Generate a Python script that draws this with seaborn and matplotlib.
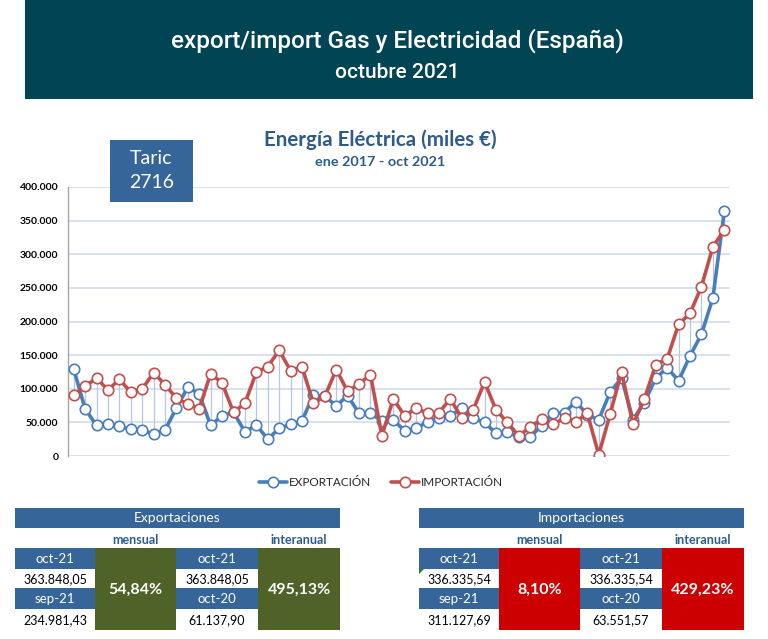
import numpy as np
import pandas as pd
import matplotlib
matplotlib.use("Agg")
import matplotlib.pyplot as plt
import seaborn as sns
from matplotlib.patches import Rectangle, Polygon
from matplotlib.lines import Line2D
from matplotlib.ticker import FuncFormatter

# --- data (miles de euros), ene 2017 - oct 2021 ---
exportacion = [129500, 70000, 45500, 48000, 44000, 39500, 38000, 33000, 38500, 71500,
               102500, 92000, 45500, 60000, 65000, 36000, 46000, 25000, 41000, 47000,
               52000, 91000, 88500, 75000, 89500, 63500, 63500, 52000, 53500, 37500,
               41000, 51000, 57000, 59500, 71000, 56000, 50000, 33500, 35000, 28500,
               28500, 45000, 63500, 64500, 81000, 61138, 54000, 95000, 116000, 54000,
               79500, 116000, 131000, 112000, 149000, 181000, 234981, 363848]
importacion = [90000, 103500, 116000, 98000, 114000, 95000, 99500, 124000, 106000, 86000,
               77000, 70500, 122500, 108500, 65000, 78500, 124500, 133000, 157000, 127000,
               132500, 78500, 88500, 128500, 96000, 107000, 121000, 30000, 85000, 59500,
               71000, 63500, 64500, 85000, 56000, 68500, 110000, 68500, 50000, 29500,
               43500, 54500, 47500, 56000, 51000, 63552, 2000, 62500, 125000, 47000,
               85000, 136000, 144500, 196000, 212000, 252000, 311128, 336336]
meses = pd.date_range("2017-01-01", "2021-10-01", freq="MS")

y_ticks = [0, 50000, 100000, 150000, 200000, 250000, 300000, 350000, 400000]

exp_fechas = ["oct-21", "sep-21", "oct-21", "oct-20"]
exp_valores = ["363.848,05", "234.981,43", "363.848,05", "61.137,90"]
exp_pct = ["54,84%", "495,13%"]
imp_fechas = ["oct-21", "sep-21", "oct-21", "oct-20"]
imp_valores = ["336.335,54", "311.127,69", "336.335,54", "63.551,57"]
imp_pct = ["8,10%", "429,23%"]

BLUE = "#4A7EBB"
RED = "#C0504D"
CELL = "#366599"
TITLE = "#2E5C8A"

sns.set_theme(style="white")
plt.rcParams["font.family"] = ["Lato", "DejaVu Sans"]

W, H = 768, 639
fig = plt.figure(figsize=(W / 100, H / 100), dpi=100)


def fx(x):
    return x / W


def fy(y):
    return 1 - y / H


def box(x0, y0, x1, y1, color, z=0):
    fig.add_artist(Rectangle((fx(x0), fy(y1)), fx(x1) - fx(x0), fy(y0) - fy(y1),
                             transform=fig.transFigure, facecolor=color,
                             edgecolor="none", zorder=z))


def txt(x, y, s, z=6, **kw):
    fig.text(fx(x), fy(y), s, ha="center", va="center", zorder=z, **kw)


# header banner
box(25, 0, 753, 99, "#014453")
txt(397, 41, "export/import Gas y Electricidad (España)", color="white",
    fontsize=17.5, fontweight="medium", family=["Roboto", "DejaVu Sans"])
txt(397, 72, "octubre 2021", color="white", fontsize=15, fontweight="medium",
    family=["Roboto", "DejaVu Sans"])

# chart
ax = fig.add_axes([fx(68), fy(456), fx(730) - fx(68), fy(187) - fy(456)])
ax.patch.set_alpha(0)
idx = np.arange(len(meses))
df = pd.DataFrame({"idx": idx, "exp": exportacion, "imp": importacion})

ax.vlines(idx, np.minimum(exportacion, importacion), np.maximum(exportacion, importacion),
          color="#B4C7E7", lw=0.9, zorder=1)
for col, c in (("exp", BLUE), ("imp", RED)):
    sns.lineplot(data=df, x="idx", y=col, color=c, marker="o", markersize=7.5,
                 markerfacecolor="white", markeredgecolor=c, markeredgewidth=1.2,
                 linewidth=2.6, ax=ax, zorder=3)

ax.set_xlim(-0.5, len(meses) - 0.5)
ax.set_ylim(0, 400000)
ax.set_yticks(y_ticks)
ax.yaxis.set_major_formatter(FuncFormatter(lambda v, p: f"{int(v):,}".replace(",", ".")))
ax.set_xticks([])
ax.set_xlabel("")
ax.set_ylabel("")
ax.grid(axis="y", color="#D0DCEE", lw=1.2)
ax.set_axisbelow(True)
for s in ["top", "right", "bottom"]:
    ax.spines[s].set_visible(False)
ax.spines["left"].set_color("#A6A6A6")
ax.spines["left"].set_linewidth(1)
ax.tick_params(axis="y", length=3, width=1, color="#A6A6A6", pad=4,
               labelsize=7.5)
for lab in ax.get_yticklabels():
    lab.set_fontweight("bold")
    lab.set_color("black")

txt(380, 140, "Energía Eléctrica (miles €)", color=TITLE, fontsize=14.8,
    fontweight="bold")
txt(380, 162, "ene 2017 - oct 2021", color=TITLE, fontsize=10.4, fontweight="bold")

# Taric box (on top of the plot area)
box(110, 140, 193, 202, CELL, z=5)
txt(151.5, 159, "Taric", color="white", fontsize=14)
txt(151.5, 183, "2716", color="white", fontsize=14)

handles = [Line2D([], [], color=c, lw=2.6, marker="o", markersize=7.5,
                  markerfacecolor="white", markeredgewidth=1.2) for c in (BLUE, RED)]
fig.legend(handles, ["EXPORTACIÓN", "IMPORTACIÓN"], loc="center",
           bbox_to_anchor=(fx(381), fy(483)), ncol=2, frameon=False,
           fontsize=8.5, handlelength=2.4, handletextpad=0.2, columnspacing=1.6)


# tables
def tabla(x0, titulo, fechas, valores, pct, pct_color, comment=False):
    xs = [x0, x0 + 80, x0 + 161, x0 + 243, x0 + 325]
    box(xs[0], 508, xs[4], 528, CELL)
    txt((xs[0] + xs[4]) / 2, 518.5, titulo, color="white", fontsize=10)
    txt((xs[1] + xs[2]) / 2, 540, "mensual", color=TITLE, fontsize=9, fontweight="bold")
    txt((xs[3] + xs[4]) / 2, 540, "interanual", color=TITLE, fontsize=9, fontweight="bold")
    for g in range(2):
        a, b = xs[2 * g], xs[2 * g + 1]
        c = (a + b) / 2
        box(a, 548, b, 569, CELL)
        box(a, 588, b, 609, CELL)
        txt(c, 559, fechas[2 * g], color="white", fontsize=9.5)
        txt(c, 579, valores[2 * g], color="black", fontsize=9)
        txt(c, 599, fechas[2 * g + 1], color="white", fontsize=9.5)
        txt(c, 620, valores[2 * g + 1], color="black", fontsize=9)
        box(b, 548, xs[2 * g + 2], 630, pct_color)
        txt((b + xs[2 * g + 2]) / 2, 590, pct[g], color="white", fontsize=11.5,
            fontweight="bold")
    if comment:
        fig.add_artist(Polygon([(fx(x0), fy(569)), (fx(x0 + 5), fy(569)), (fx(x0), fy(574))],
                               closed=True, transform=fig.transFigure,
                               facecolor="#1E8A1E", edgecolor="none"))


tabla(15, "Exportaciones", exp_fechas, exp_valores, exp_pct, "#4F6228")
tabla(419, "Importaciones", imp_fechas, imp_valores, imp_pct, "#CC0000", comment=True)

fig.savefig("out.png", dpi=100)
